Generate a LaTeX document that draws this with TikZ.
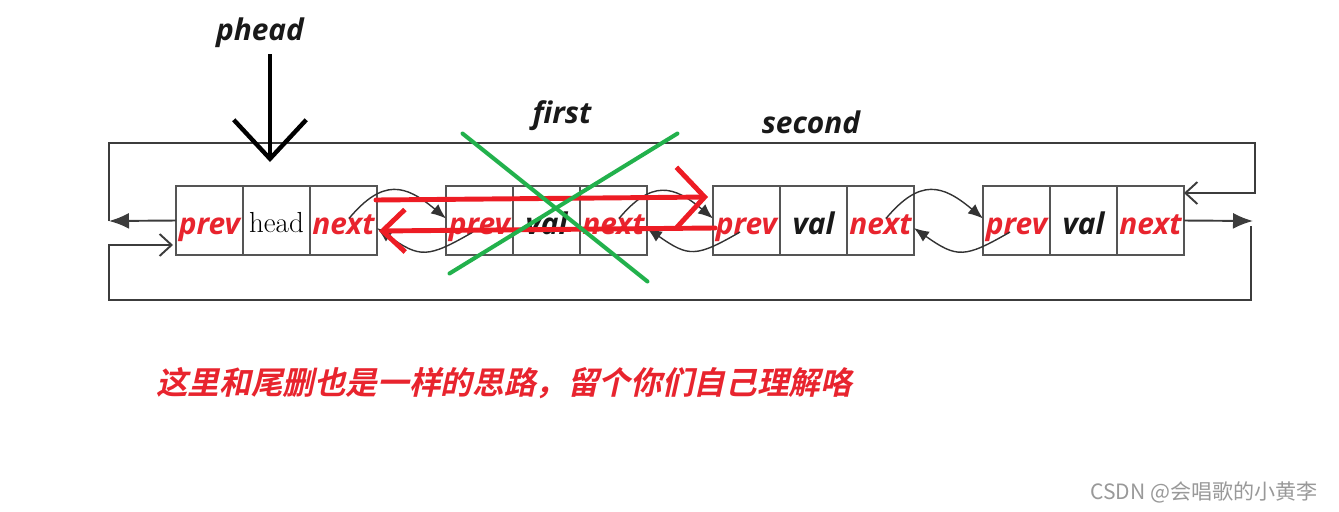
\documentclass[tikz,border=0pt]{standalone}
\usepackage{fontspec}
\usetikzlibrary{positioning,arrows.meta}
\newfontfamily\lab{Open Sans}
\newfontfamily\cjk{Noto Sans CJK SC Bold}[FakeSlant=0.22]
\newfontfamily\wmark{Noto Sans CJK SC}
\definecolor{listred}{RGB}{232,36,46}
\definecolor{penred}{RGB}{237,28,36}
\definecolor{pengreen}{RGB}{34,177,76}
\definecolor{boxgray}{RGB}{85,85,85}
\definecolor{ringgray}{RGB}{60,60,60}
\begin{document}
\begin{tikzpicture}[x=0.02cm, y=-0.02cm,
                cell/.style={
                    draw=boxgray,
                    line width=1.3pt,
                    rectangle,
                    minimum width=1.34cm,
                    minimum height=1.38cm,
                    inner sep=0pt,
                    outer sep=0pt,
                    text height=0.56cm,
                    text depth=0pt,
                    font=\lab\bfseries\itshape\fontsize{17}{20}\selectfont
                },
                ptr/.style={
                    cell,
                    text=listred
                },
                valcell/.style={
                    cell,
                    text=black!90
                },
                lbl/.style={
                    font=\lab\bfseries\itshape\fontsize{17}{20}\selectfont,
                    text=black!90
                },
                ring/.style={
                    draw=ringgray,
                    line width=1.1pt
                },
                link/.style={
                    draw=black!80,
                    line width=0.8pt,
                    looseness=1.4,
                    -{Latex[length=0.3cm,width=0.24cm]}
                },
                redpen/.style={
                    draw=penred,
                    line width=2.8pt,
                    line cap=round,
                    line join=round
                },
                greenpen/.style={
                    draw=pengreen,
                    line width=2.3pt,
                    line cap=round
                }
            ]
                \useasboundingbox (0,0) rectangle (1339,511);

                % head node
                \node[ptr] (prev1) at (209.5,220.5) {prev};
                \node[cell, font=\fontsize{16.5}{19}\selectfont, text height=0.46cm] (head1) [right=0pt of prev1] {head};
                \node[ptr] (next1) [right=0pt of head1] {next};

                % data nodes
                \foreach \i/\x in {2/479.5, 3/746.5, 4/1016.5} {
                    \node[ptr] (prev\i) at (\x,220.5) {prev};
                    \node[valcell] (val\i) [right=0pt of prev\i] {val};
                    \node[ptr] (next\i) [right=0pt of val\i] {next};
                }

                \node[lbl] (phead) at (260,33) {phead};
                \node[lbl] (first) at (562,116) {first};
                \node[lbl] (second) at (811,122) {second};

                % links between nodes
                \foreach \a/\b in {1/2, 2/3, 3/4} {
                    \draw[link] ([xshift=-0.56cm,yshift=0.04cm]next\a.east) to[out=50,in=140] ([yshift=0.04cm]prev\b.west);
                    \draw[link] ([xshift=0.54cm,yshift=-0.23cm]prev\b.west) to[out=210,in=-35] ([yshift=-0.15cm]next\a.east);
                }

                % circular links
                \coordinate (lmid) at (109,221);
                \coordinate (tcorner) at (1255,143);
                \coordinate (rmid) at (1253,221);
                \coordinate (bcorner) at (109,300);
                \draw[ring, -{Latex[length=0.4cm,width=0.32cm]}] (prev1.west) -- (lmid);
                \draw[ring, -{Straight Barb[length=0.24cm,width=0.44cm]}] (lmid) |- (tcorner) |- ([yshift=-0.14cm]next4.north east);
                \draw[ring, -{Latex[length=0.4cm,width=0.32cm]}] (next4.east) -- (rmid);
                \draw[ring, -{Straight Barb[length=0.24cm,width=0.44cm]}] ([xshift=-0.04cm,yshift=-0.1cm]rmid) |- (bcorner) |- ([xshift=-0.06cm,yshift=-0.49cm]prev1.west);

                % phead pointer
                \coordinate (tip) at ([xshift=-0.13cm,yshift=0.48cm]head1.north);
                \draw[line width=2.5pt, -{Straight Barb[length=0.78cm,width=1.45cm]}] (phead.south -| tip) -- (tip);

                % new links drawn over
                \draw[redpen, -{Straight Barb[length=0.56cm,width=1.2cm]}] ([xshift=-0.02cm,yshift=0.41cm]next1.east) -- ([xshift=-0.1cm,yshift=0.47cm]prev3.west);
                \draw[redpen, -{Straight Barb[length=0.45cm,width=0.85cm]}] ([xshift=0.04cm,yshift=-0.15cm]prev3.west) -- ([xshift=0.04cm,yshift=-0.21cm]next1.east);

                % removed node
                \draw[greenpen] ([xshift=-1.68cm,yshift=1.74cm]val2.center) -- ([xshift=2.02cm,yshift=-1.22cm]val2.center);
                \draw[greenpen] ([xshift=2.62cm,yshift=1.74cm]val2.center) -- ([xshift=-1.94cm,yshift=-1.06cm]val2.center);

                \node[anchor=west, text=listred, font=\cjk\fontsize{18}{22}\selectfont] (note) at (150,383) {这里和尾删也是一样的思路，留个你们自己理解咯};
                \node[anchor=east, text=black!40, font=\wmark\fontsize{12}{14}\selectfont] (mark) at (1324,492) {CSDN @会唱歌的小黄李};
        \end{tikzpicture}
\end{document}
